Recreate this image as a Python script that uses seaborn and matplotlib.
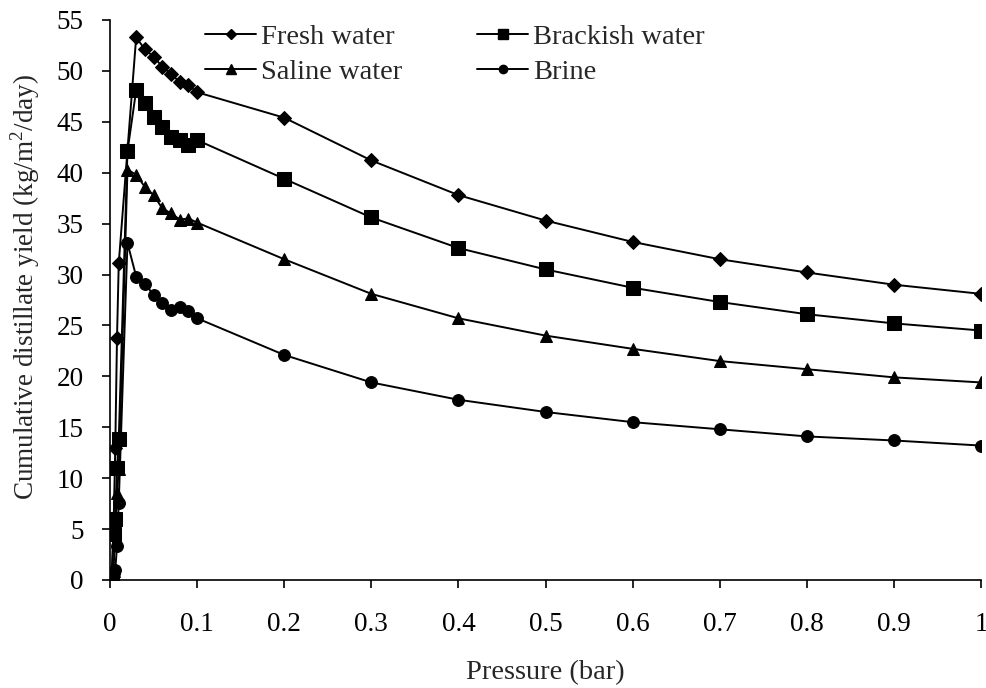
import matplotlib
matplotlib.use("Agg")
import matplotlib.pyplot as plt
from matplotlib.lines import Line2D
import seaborn as sns
import pandas as pd

# Pressure levels (bar)
pressure = [0.0, 0.002, 0.004, 0.006, 0.008, 0.01, 0.02, 0.03, 0.04, 0.05,
            0.06, 0.07, 0.08, 0.09, 0.1, 0.2, 0.3, 0.4, 0.5, 0.6, 0.7,
            0.8, 0.9, 1.0]

# Cumulative distillate yield (kg/m2/day)
fresh = [0.2, 0.6, 5.0, 13.0, 23.8, 31.1, 42.2, 53.3, 52.1, 51.4,
         50.4, 49.7, 48.9, 48.6, 47.9, 45.4, 41.2, 37.8, 35.3, 33.2, 31.5,
         30.2, 29.0, 28.1]
brackish = [0.1, 0.5, 4.5, 6.0, 11.0, 13.8, 42.1, 48.1, 46.8, 45.5,
            44.5, 43.5, 43.2, 42.7, 43.2, 39.4, 35.6, 32.6, 30.5, 28.7, 27.3,
            26.1, 25.2, 24.5]
saline = [0.1, 0.3, 0.9, 4.8, 8.5, 10.9, 40.3, 39.8, 38.6, 37.8,
          36.5, 36.0, 35.4, 35.5, 35.1, 31.5, 28.1, 25.7, 24.0, 22.7, 21.5,
          20.7, 19.9, 19.4]
brine = [0.1, 0.3, 0.7, 1.0, 3.3, 7.6, 33.1, 29.8, 29.1, 28.0,
         27.2, 26.5, 26.8, 26.4, 25.7, 22.1, 19.4, 17.7, 16.5, 15.5, 14.8,
         14.1, 13.7, 13.2]

series_names = ["Fresh water", "Brackish water", "Saline water", "Brine"]
series_values = [fresh, brackish, saline, brine]
series_markers = ["D", "s", "^", "o"]
series_msize = [7.5, 9.5, 8.5, 8.5]

sns.set_theme(style="white")
plt.rcParams["font.family"] = ["Liberation Serif", "DejaVu Serif"]
plt.rcParams["mathtext.fontset"] = "custom"
plt.rcParams["mathtext.rm"] = "Liberation Serif"

fig = plt.figure(figsize=(9.86, 6.88), dpi=100)
ax = fig.add_axes([0.1116, 0.157, 0.8834, 0.814])

for name, vals, mk, ms in zip(series_names, series_values, series_markers, series_msize):
    df = pd.DataFrame({"Pressure": pressure, "Yield": vals})
    sns.lineplot(data=df, x="Pressure", y="Yield", ax=ax, color="black",
                 linewidth=1.4, marker=mk, markersize=ms,
                 markeredgecolor="black", markerfacecolor="black",
                 estimator=None, sort=False)

ax.set_xlim(0, 1)
ax.set_ylim(0, 55)
ax.set_xticks([i / 10 for i in range(11)])
ax.set_xticklabels(["0"] + [f"0.{i}" for i in range(1, 10)] + ["1"])
ax.set_yticks(range(0, 56, 5))

for side in ["top", "right"]:
    ax.spines[side].set_visible(False)
for side in ["left", "bottom"]:
    ax.spines[side].set_color("black")
    ax.spines[side].set_linewidth(1.2)

ax.tick_params(axis="both", direction="out", length=6, width=1.2,
               colors="black", labelsize=19.5, bottom=True, left=True)
ax.tick_params(axis="x", pad=17)
ax.tick_params(axis="y", pad=13)

ax.set_xlabel("Pressure (bar)", fontsize=20.5, labelpad=17)
ax.set_ylabel("Cumulative distillate yield (kg/m$^{2}$/day)", fontsize=19.5)
ax.yaxis.set_label_coords(-0.078, 0.523)

# Legend keys: short line with a small marker in the middle
legend_markers = {"Fresh water": ("D", 5.5), "Brackish water": ("s", 7),
                  "Saline water": ("^", 6.5), "Brine": ("o", 6)}
order = ["Fresh water", "Saline water", "Brackish water", "Brine"]
keys = [Line2D([0], [0], color="black", linewidth=1.4,
               marker=legend_markers[n][0], markersize=legend_markers[n][1],
               markerfacecolor="black", markeredgecolor="black") for n in order]
ax.legend(keys, order, ncol=2, frameon=False,
          loc="upper left", bbox_to_anchor=(205 / 986, 1 - 24 / 688),
          bbox_transform=fig.transFigure, borderaxespad=0, borderpad=0,
          fontsize=20.5, handlelength=1.8, columnspacing=2.65,
          handletextpad=0.15, labelspacing=0.33)

fig.savefig("out.png", dpi=100, facecolor="white")
